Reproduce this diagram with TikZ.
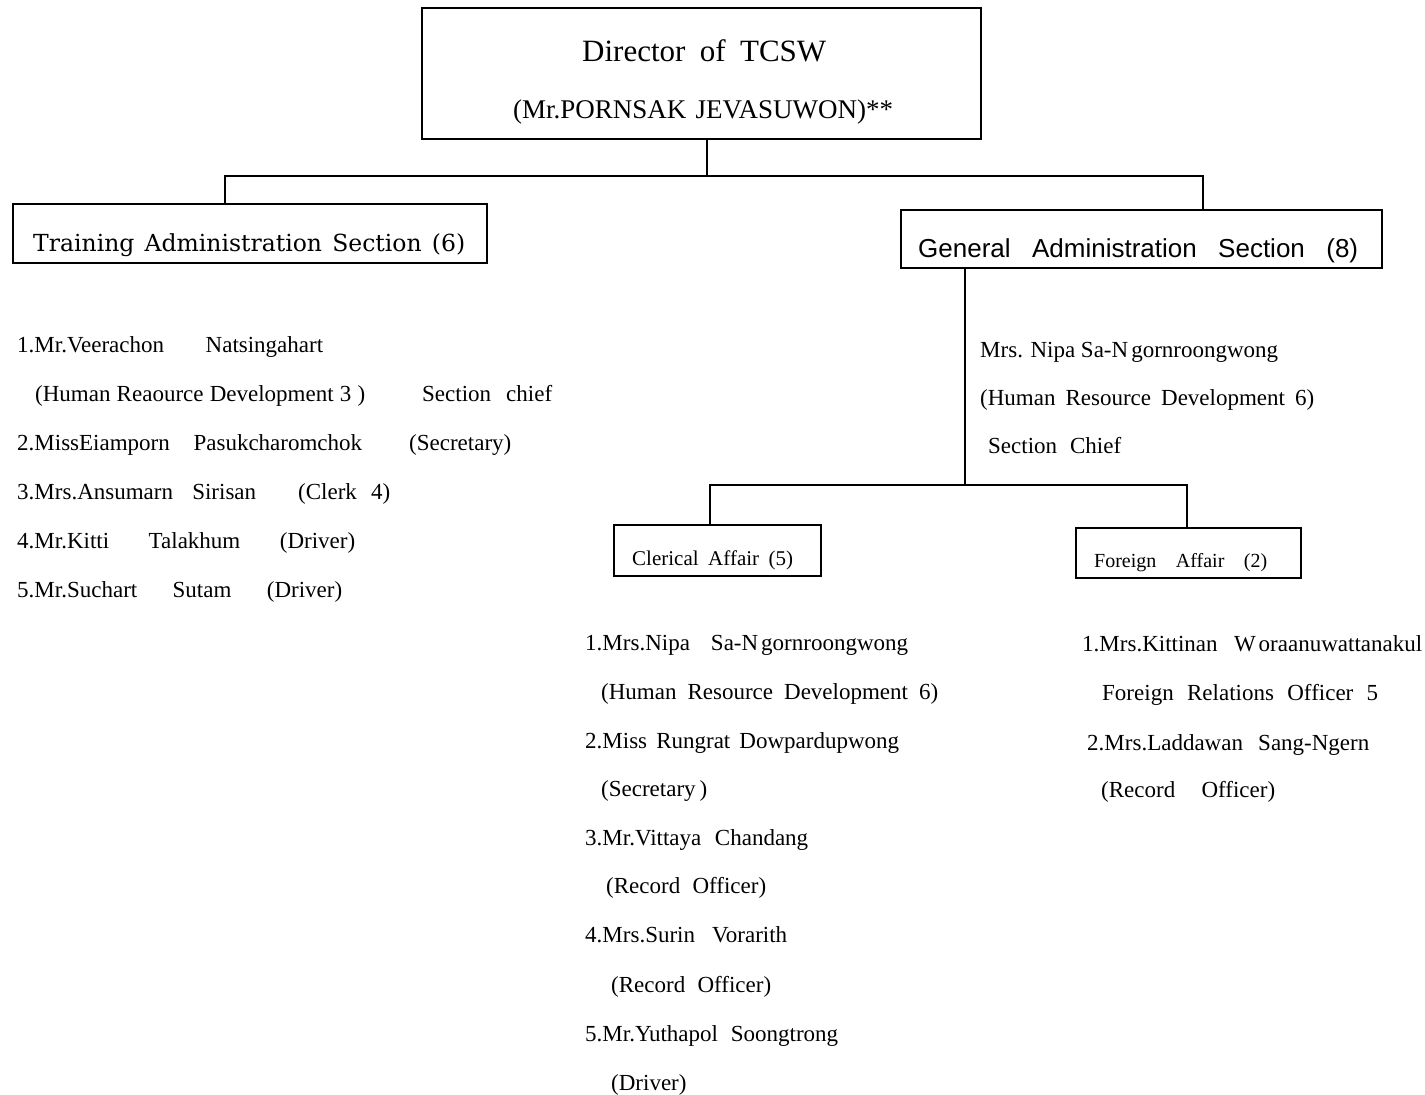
\documentclass[tikz,border=0pt]{standalone}
\usepackage{fontspec}
\setmainfont{Liberation Serif}
\newfontfamily\dvserif{DejaVu Serif}
\newfontfamily\lsans{Liberation Sans}
\newcommand\fitw[2]{\makebox[#1][s]{#2}}
\begin{document}
\begin{tikzpicture}[x=1pt,y=-1pt,
  box/.style={draw=black,line width=1.5pt,inner sep=0pt},
  conn/.style={draw=black,line width=1.5pt},
  tx/.style={anchor=base west,inner sep=0pt,font=\fontsize{23}{27}\selectfont},
  btx/.style={anchor=base west,inner sep=0pt}]
\useasboundingbox (0,0) rectangle (1425,1095);
% boxes
\node[box,minimum width=559pt,minimum height=131pt] (dir) at (701.5,73.5) {};
\node[box,minimum width=474pt,minimum height=59pt] (tas) at (250,233.5) {};
\node[box,minimum width=481pt,minimum height=58pt] (gas) at (1141.5,239) {};
\node[box,minimum width=207pt,minimum height=51pt] (cla) at (717.5,550.5) {};
\node[box,minimum width=225pt,minimum height=50pt] (fa) at (1188.5,553) {};
% box texts
\node[btx,font=\fontsize{31}{36}\selectfont] (dir1) at (582,61) {\fitw{244pt}{Director of TCSW}};
\node[btx,font=\fontsize{27}{32}\selectfont] (dir2) at (513,118) {\fitw{380pt}{(Mr.PORNSAK JEVASUWON)**}};
\node[btx,font=\dvserif\fontsize{23.5}{28}\selectfont] (tast) at (33,251) {\fitw{432pt}{Training Administration Section (6)}};
\node[btx,font=\lsans\fontsize{26}{30}\selectfont] (gast) at (918,257) {\fitw{440pt}{General Administration Section (8)}};
\node[btx,font=\fontsize{21}{24}\selectfont] (clat) at (632,565) {\fitw{161pt}{Clerical Affair (5)}};
\node[btx,font=\fontsize{20}{24}\selectfont] (fat) at (1094,567) {\fitw{173pt}{Foreign Affair (2)}};
% connectors
\coordinate (jm) at (707,176);
\coordinate (jl) at (225,176);
\coordinate (jr) at (1203,176);
\draw[conn] (dir.south -| jm) -- (jm);
\draw[conn] (tas.north -| jl) -- (jl) -- (jr) -- (gas.north -| jr);
\coordinate (gm) at (965,485);
\coordinate (gl) at (710,485);
\coordinate (gr) at (1187,485);
\draw[conn] (gas.south -| gm) -- (gm);
\draw[conn] (cla.north -| gl) -- (gl) -- (gr) -- (fa.north -| gr);
% left list
\node[tx] (l1) at (17,352) {\fitw{306pt}{1.Mr.Veerachon Natsingahart}};
\node[tx] (l2) at (35,401) {\fitw{330pt}{(Human Reaource Development 3 )}};
\node[tx] (l2b) at (422,401) {\fitw{130pt}{Section chief}};
\node[tx] (l3) at (17,450) {\fitw{345pt}{2.MissEiamporn Pasukcharomchok}};
\node[tx] (l3b) at (409,450) {(Secretary)};
\node[tx] (l4) at (17,499) {\fitw{239pt}{3.Mrs.Ansumarn Sirisan}};
\node[tx] (l4b) at (298,499) {\fitw{92pt}{(Clerk 4)}};
\node[tx] (l5) at (17,548) {\fitw{338pt}{4.Mr.Kitti Talakhum (Driver)}};
\node[tx] (l6) at (17,597) {\fitw{325pt}{5.Mr.Suchart Sutam (Driver)}};
% general section chief
\node[tx] (g1) at (980,357) {\fitw{298pt}{Mrs. Nipa Sa-N\hspace{3pt}gornroongwong}};
\node[tx] (g2) at (980,405) {\fitw{334pt}{(Human Resource Development 6)}};
\node[tx] (g3) at (988,453) {\fitw{133pt}{Section Chief}};
% clerical list
\node[tx] (c1) at (585,650) {\fitw{323pt}{1.Mrs.Nipa Sa-N\hspace{3pt}gornroongwong}};
\node[tx] (c2) at (601,699) {\fitw{337pt}{(Human Resource Development 6)}};
\node[tx] (c3) at (585,748) {\fitw{314pt}{2.Miss Rungrat Dowpardupwong}};
\node[tx] (c4) at (601,796) {(Secretary\,)};
\node[tx] (c5) at (585,845) {\fitw{223pt}{3.Mr.Vittaya Chandang}};
\node[tx] (c6) at (606,893) {\fitw{160pt}{(Record Officer)}};
\node[tx] (c7) at (585,942) {\fitw{202pt}{4.Mrs.Surin Vorarith}};
\node[tx] (c8) at (611,992) {\fitw{160pt}{(Record Officer)}};
\node[tx] (c9) at (585,1041) {\fitw{253pt}{5.Mr.Yuthapol Soongtrong}};
\node[tx] (c10) at (611,1090) {(Driver)};
% foreign list
\node[tx] (f1) at (1082,651) {\fitw{340pt}{1.Mrs.Kittinan W\hspace{3pt}oraanuwattanakul}};
\node[tx] (f2) at (1102,700) {\fitw{276pt}{Foreign Relations Officer 5}};
\node[tx] (f3) at (1087,750) {2.Mrs.Laddawan};
\node[tx] (f3b) at (1258,750) {Sang-Ngern};
\node[tx] (f4) at (1101,797) {\fitw{174pt}{(Record Officer)}};
\end{tikzpicture}
\end{document}
